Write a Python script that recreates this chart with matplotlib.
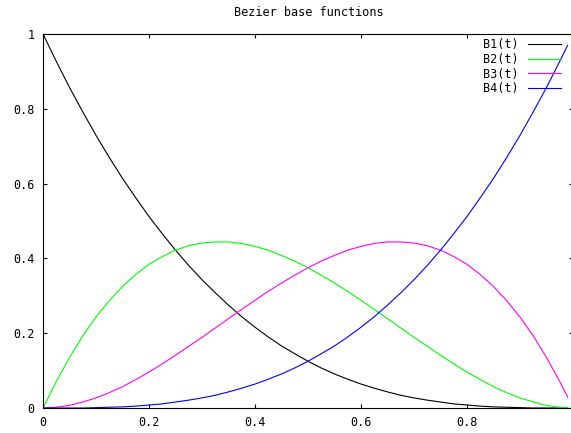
import matplotlib
matplotlib.use("Agg")
import matplotlib.pyplot as plt

plt.rcParams['font.family'] = ['DejaVu Sans Mono']

# values
t = [0.0, 0.025, 0.05, 0.075, 0.1, 0.125, 0.15, 0.175, 0.2, 0.225, 0.25,
     0.275, 0.3, 0.325, 0.35, 0.375, 0.4, 0.425, 0.45, 0.475, 0.5,
     0.525, 0.55, 0.575, 0.6, 0.625, 0.65, 0.675, 0.7, 0.725, 0.75,
     0.775, 0.8, 0.825, 0.85, 0.875, 0.9, 0.925, 0.95, 0.975, 0.99]
b1 = [1.0, 0.927, 0.857, 0.792, 0.729, 0.670, 0.614, 0.562, 0.512, 0.466, 0.422,
      0.381, 0.343, 0.308, 0.275, 0.244, 0.216, 0.190, 0.166, 0.145, 0.125,
      0.107, 0.091, 0.077, 0.064, 0.053, 0.043, 0.034, 0.027, 0.021, 0.016,
      0.011, 0.008, 0.005, 0.003, 0.002, 0.001, 0.0, 0.0, 0.0, 0.0]
b2 = [0.0, 0.071, 0.135, 0.193, 0.243, 0.287, 0.325, 0.357, 0.384, 0.405, 0.422,
      0.434, 0.441, 0.444, 0.444, 0.440, 0.432, 0.422, 0.408, 0.393, 0.375,
      0.355, 0.334, 0.312, 0.288, 0.264, 0.239, 0.214, 0.189, 0.165, 0.141,
      0.118, 0.096, 0.076, 0.057, 0.041, 0.027, 0.016, 0.007, 0.002, 0.0]
b3 = [0.0, 0.002, 0.007, 0.016, 0.027, 0.041, 0.057, 0.076, 0.096, 0.118, 0.141,
      0.165, 0.189, 0.214, 0.239, 0.264, 0.288, 0.312, 0.334, 0.355, 0.375,
      0.393, 0.408, 0.422, 0.432, 0.440, 0.444, 0.444, 0.441, 0.434, 0.422,
      0.405, 0.384, 0.357, 0.325, 0.287, 0.243, 0.193, 0.135, 0.071, 0.029]
b4 = [0.0, 0.0, 0.0, 0.0, 0.001, 0.002, 0.003, 0.005, 0.008, 0.011, 0.016,
      0.021, 0.027, 0.034, 0.043, 0.053, 0.064, 0.077, 0.091, 0.107, 0.125,
      0.145, 0.166, 0.190, 0.216, 0.244, 0.275, 0.308, 0.343, 0.381, 0.422,
      0.466, 0.512, 0.562, 0.614, 0.670, 0.729, 0.792, 0.857, 0.927, 0.970]

series = [("B1(t)", b1, "#000000"), ("B2(t)", b2, "#00ff00"),
          ("B3(t)", b3, "#ff00ff"), ("B4(t)", b4, "#0000ff")]
ticks = [0, 0.2, 0.4, 0.6, 0.8, 1.0]
ylabels = ["0", "0.2", "0.4", "0.6", "0.8", "1"]
xlabels = ["0", "0.2", "0.4", "0.6", "0.8", ""]  # "1" falls outside the image

fig = plt.figure(figsize=(5.71, 4.33), dpi=100)
ax = fig.add_axes([43 / 571, 25 / 433, 530 / 571, 374 / 433])

for name, vals, col in series:
    ax.plot(t, vals, color=col, lw=0.8, label=name)

ax.set_xlim(0, 1)
ax.set_ylim(0, 1)
ax.set_xticks(ticks)
ax.set_xticklabels(xlabels)
ax.set_yticks(ticks)
ax.set_yticklabels(ylabels)
ax.tick_params(direction='in', length=3, width=0.8, top=True, right=True,
               labelsize=8.5, pad=6)
for s in ax.spines.values():
    s.set_linewidth(0.8)

fig.text(309 / 571, 1 - 13 / 433, "Bezier base functions", ha='center', va='center',
         fontsize=8.5)

leg = ax.legend(loc='upper right', bbox_to_anchor=(561 / 571, 1 - 38 / 433),
                bbox_transform=fig.transFigure, frameon=False, markerfirst=False,
                fontsize=8.5, handlelength=2.8, handletextpad=0.8,
                labelspacing=0.15, borderaxespad=0, borderpad=0)

fig.savefig("out.png", dpi=100)
